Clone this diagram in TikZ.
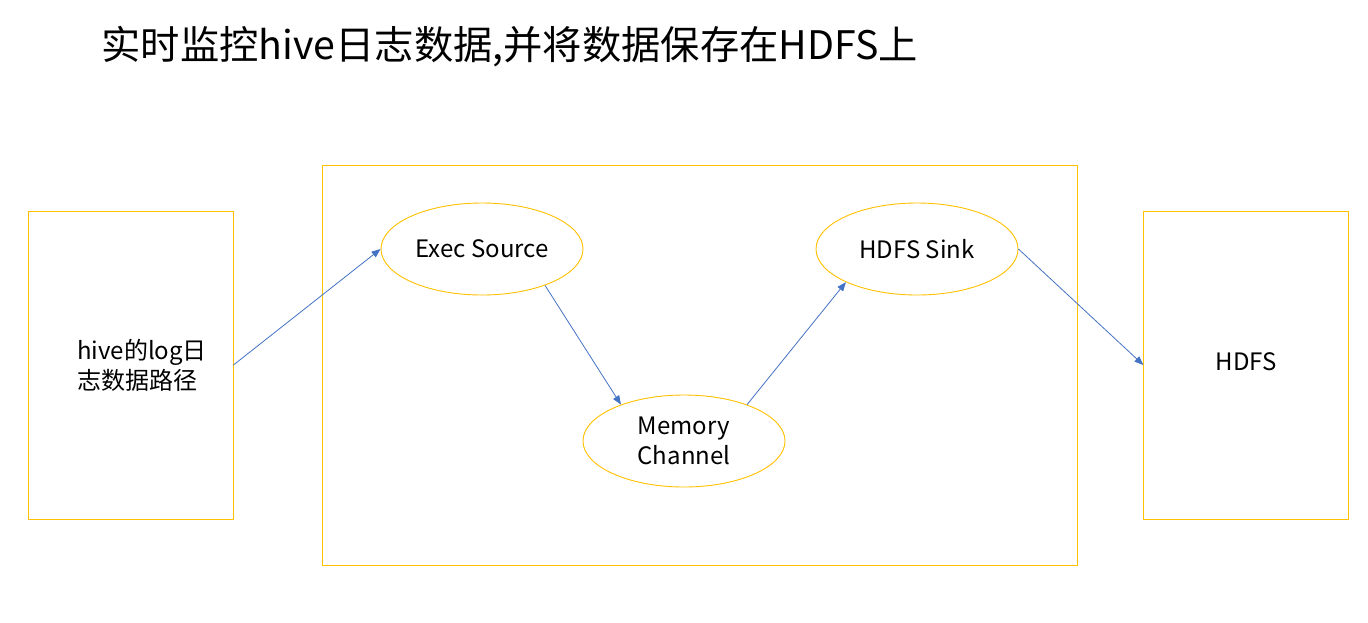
\documentclass[tikz,border=0pt]{standalone}
\usepackage{fontspec}
\usepackage{tikz}
\usetikzlibrary{arrows.meta,positioning,shapes.geometric}
\newfontfamily\cjk{Noto Sans CJK SC}
\definecolor{flumegold}{HTML}{FFC000}
\definecolor{flumeblue}{HTML}{4472C4}

\begin{document}
\begin{tikzpicture}[
  x=1pt, y=-1pt,
  store/.style={draw=flumegold, line width=0.9pt, align=left, minimum width=205pt, minimum height=308pt, inner sep=0pt, font=\cjk\fontsize{24}{30}\selectfont},
  agentbox/.style={draw=flumegold, line width=0.9pt, minimum width=755pt, minimum height=400pt, inner sep=0pt},
  comp/.style={ellipse, draw=flumegold, line width=0.9pt, align=center, minimum width=202pt, minimum height=92pt, inner sep=0pt, font=\cjk\fontsize{24}{31}\selectfont},
  flow/.style={-{Triangle[length=9pt,width=7pt]}, draw=flumeblue, line width=0.8pt}
]
\useasboundingbox (0,0) rectangle (1368,622);
\node[anchor=west, font=\cjk\fontsize{39.3}{44}\selectfont] (title) at (98,47) {实时监控hive日志数据,并将数据保存在HDFS上};
\node[store] (logdir) at (130.5,365) {\hspace*{23pt}hive的log日\\\hspace*{23pt}志数据路径};
\node[agentbox, right=89pt of logdir] (agent) {};
\node[store, right=65pt of agent] (hdfs) {\raisebox{7pt}{HDFS}};
\node[comp] (exec) at (482,249) {Exec Source};
\node[comp] (memory) at (684,441) {\raisebox{-3pt}{\shortstack{Memory\\[2pt]Channel}}};
\node[comp] (sink) at (917,249) {HDFS Sink};
\draw[flow] (logdir.east) -- (exec.west);
\draw[flow] (exec.-30) -- (memory.150);
\draw[flow] (memory.30) -- (sink.205);
\draw[flow] (sink.east) -- (hdfs.west);
\end{tikzpicture}
\end{document}
